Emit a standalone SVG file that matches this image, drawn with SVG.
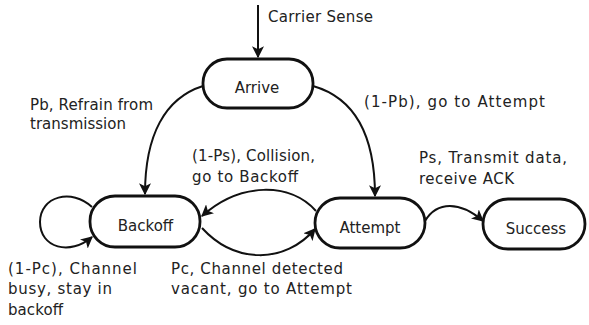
<svg xmlns="http://www.w3.org/2000/svg" width="589" height="325" viewBox="0 0 589 325">
<style>
.node rect{fill:#fff;stroke:#111;stroke-width:2.8}
text{font-family:"DejaVu Sans",Verdana,sans-serif;font-size:15px;fill:#222}
.c{text-anchor:middle}
.edge{fill:none;stroke:#111;stroke-width:2;marker-end:url(#ah)}
</style>
<defs>
<marker id="ah" viewBox="0 0 10 10" refX="9" refY="5" markerWidth="6" markerHeight="6" markerUnits="strokeWidth" orient="auto">
<path d="M0,0 L10,5 L0,10 L2.5,5 Z" fill="#111"/>
</marker>
</defs>
<rect width="589" height="325" fill="#fff"/>
<g id="connectors">
<path class="edge" d="M258,5 L258,57"/>
<path class="edge" d="M203,86 C165,98 145,135 145,194"/>
<path class="edge" d="M313,86 C355,98 375,135 375,196"/>
<path class="edge" d="M316,211 C290,182 240,182 202,216"/>
<path class="edge" d="M202,228 C235,264 285,264 315,229"/>
<path class="edge" d="M92,207 C72,188 40,196 40,222 C40,248 70,256 92,237"/>
<path class="edge" d="M425,221 C437,201 460,201 483,221"/>
</g>
<g id="arrive" class="node"><rect x="203" y="59" width="110" height="49" rx="24"/><text class="c" x="257" y="93">Arrive</text></g>
<g id="backoff" class="node"><rect x="90" y="196" width="110" height="51" rx="25"/><text class="c" x="145.5" y="231">Backoff</text></g>
<g id="attempt" class="node"><rect x="315" y="198" width="110" height="50" rx="25"/><text class="c" x="370" y="233">Attempt</text></g>
<g id="success" class="node"><rect x="483" y="199" width="102" height="50" rx="25"/><text class="c" x="536" y="234">Success</text></g>
<g id="labels">
<text x="268" y="22" textLength="105" lengthAdjust="spacing">Carrier Sense</text>
<text x="30" y="110" textLength="123" lengthAdjust="spacing">Pb, Refrain from</text>
<text x="30" y="129" textLength="96" lengthAdjust="spacing">transmission</text>
<text x="364" y="107" textLength="181" lengthAdjust="spacing">(1-Pb), go to Attempt</text>
<text x="192" y="161" textLength="123" lengthAdjust="spacing">(1-Ps), Collision,</text>
<text x="192" y="182" textLength="106" lengthAdjust="spacing">go to Backoff</text>
<text x="419" y="163" textLength="148" lengthAdjust="spacing">Ps, Transmit data,</text>
<text x="419" y="184" textLength="95" lengthAdjust="spacing">receive ACK</text>
<text x="8" y="274" textLength="129" lengthAdjust="spacing">(1-Pc), Channel</text>
<text x="8" y="294" textLength="104" lengthAdjust="spacing">busy, stay in</text>
<text x="8" y="315" textLength="55" lengthAdjust="spacing">backoff</text>
<text x="171" y="274" textLength="172" lengthAdjust="spacing">Pc, Channel detected</text>
<text x="171" y="294" textLength="181" lengthAdjust="spacing">vacant, go to Attempt</text>
</g>
</svg>
